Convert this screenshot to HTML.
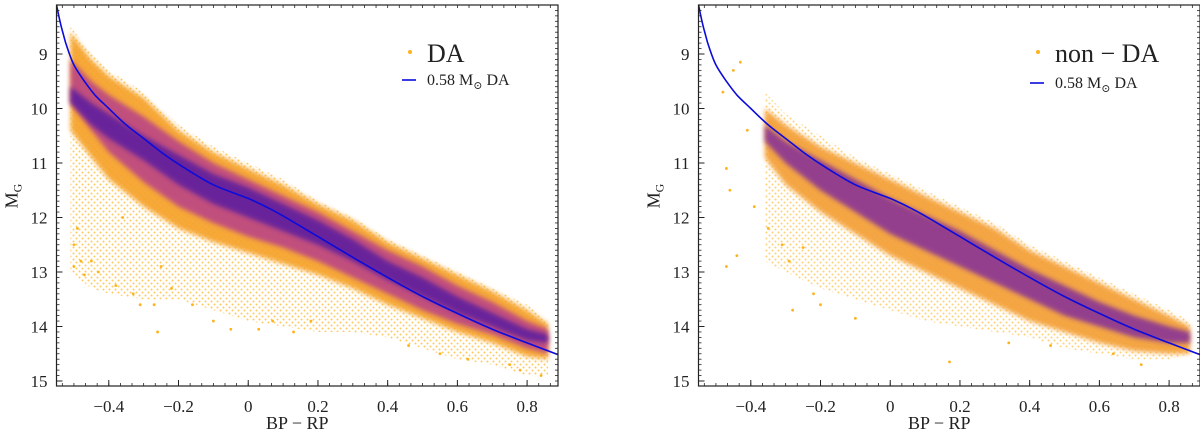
<!DOCTYPE html>
<html><head><meta charset="utf-8"><style>
html,body{margin:0;padding:0;background:#fff;}
svg{display:block;}
</style></head><body>
<svg id="chart" width="1200" height="435" viewBox="0 0 1200 435" xmlns="http://www.w3.org/2000/svg" font-family="'Liberation Serif', 'DejaVu Serif', serif">
<defs>
<filter id="soft" x="-5%" y="-5%" width="110%" height="110%"><feGaussianBlur stdDeviation="2.5"/></filter>
<pattern id="speck" width="6" height="6" patternUnits="userSpaceOnUse"><circle cx="1.5" cy="1.5" r="1" fill="#fdb31c"/><circle cx="4.5" cy="4.5" r="1" fill="#fdb31c"/></pattern>
</defs>
</svg>
<script>
// ---- data ----
const trackX = [-0.55,-0.54,-0.53,-0.52,-0.5,-0.47,-0.44,-0.4,-0.35,-0.3,-0.25,-0.2,-0.15,-0.1,-0.05,0,0.05,0.1,0.2,0.3,0.4,0.5,0.6,0.7,0.8,0.89];
const trackY = [8.1,8.4,8.65,8.87,9.2,9.5,9.75,10.0,10.3,10.55,10.8,11.02,11.22,11.4,11.53,11.65,11.8,11.97,12.35,12.73,13.1,13.45,13.76,14.05,14.3,14.52];

const daX      = [-0.51,-0.45,-0.4,-0.3,-0.2,-0.1,0,0.1,0.2,0.3,0.4,0.5,0.6,0.7,0.8,0.86];
const daSparseTop = [8.5,9.0,9.3,9.7,10.3,10.7,11.0,11.3,11.7,12.0,12.4,12.7,13.0,13.3,13.6,13.9];
const daSparseBot = [13.0,13.3,13.4,13.5,13.5,13.7,13.9,14.0,14.1,14.1,14.2,14.4,14.6,14.7,14.9,14.9];
const daOuterTop = [8.6,9.1,9.4,9.8,10.4,10.8,11.1,11.4,11.75,12.05,12.45,12.75,13.05,13.35,13.7,13.95];
const daOuterBot = [10.4,10.9,11.3,11.8,12.2,12.45,12.65,12.85,13.05,13.3,13.6,13.85,14.1,14.3,14.55,14.6];
const daMidTop   = [9.1,9.5,9.75,10.15,10.6,11.0,11.3,11.6,11.9,12.25,12.6,12.9,13.25,13.55,13.9,14.05];
const daMidBot   = [9.9,10.4,10.8,11.35,11.8,12.1,12.35,12.55,12.8,13.1,13.4,13.7,13.95,14.15,14.4,14.5];
const daCoreTop  = [9.6,9.9,10.1,10.5,10.85,11.2,11.45,11.75,12.05,12.4,12.8,13.1,13.45,13.75,14.05,14.15];
const daCoreBot  = [9.9,10.3,10.55,10.95,11.4,11.75,12.0,12.25,12.5,12.8,13.15,13.45,13.75,14.0,14.25,14.3];
const daOutX = [-0.5,-0.48,-0.47,-0.45,-0.43,-0.38,-0.31,-0.27,-0.26,-0.25,-0.16,-0.1,-0.05,0.03,0.07,0.13,0.18,-0.33,-0.22,0.46,0.55,0.63,0.78,0.84,0.75,-0.5,-0.49,-0.36];
const daOutY = [12.9,12.8,13.05,12.8,13.0,13.25,13.6,13.6,14.1,12.9,13.6,13.9,14.05,14.05,13.9,14.1,13.9,13.4,13.3,14.35,14.5,14.6,14.8,14.9,14.7,12.5,12.2,12.0];

const ndX = [-0.36,-0.3,-0.2,-0.1,0,0.1,0.2,0.3,0.4,0.5,0.6,0.7,0.8,0.86];
const ndSparseTop = [9.7,10.1,10.5,10.9,11.2,11.5,11.8,12.1,12.5,12.8,13.1,13.4,13.7,13.9];
const ndSparseBot = [12.8,13.0,13.3,13.5,13.7,13.9,14.0,14.1,14.2,14.4,14.5,14.6,14.6,14.5];
const ndOuterTop = [10.0,10.3,10.7,11.0,11.3,11.6,11.9,12.2,12.6,12.9,13.2,13.5,13.8,14.0];
const ndOuterBot = [10.9,11.4,11.9,12.3,12.7,13.0,13.3,13.6,13.9,14.1,14.3,14.45,14.5,14.5];
const ndCoreTop  = [10.3,10.6,10.95,11.3,11.65,11.95,12.25,12.6,12.95,13.25,13.55,13.8,14.0,14.1];
const ndCoreBot  = [10.6,11.0,11.5,11.9,12.3,12.6,12.9,13.2,13.5,13.8,14.0,14.2,14.3,14.3];
const ndOutX = [-0.43,-0.45,-0.48,-0.47,-0.46,-0.44,-0.39,-0.28,-0.22,-0.2,-0.1,-0.29,0.17,0.34,0.46,0.64,0.72,-0.41,-0.35,-0.47,-0.31,-0.25];
const ndOutY = [9.15,9.3,9.7,11.1,11.5,12.7,11.8,13.7,13.4,13.6,13.85,12.8,14.65,14.3,14.35,14.5,14.7,10.4,12.2,12.9,12.5,12.55];

const xTicks = [-0.4,-0.2,0,0.2,0.4,0.6,0.8];
const xTickLabels = ["\u22120.4","\u22120.2","0","0.2","0.4","0.6","0.8"];
const yTicks = [9,10,11,12,13,14,15];
const yTickLabels = ["9","10","11","12","13","14","15"];

// ---- drawing ----
const NS = "http://www.w3.org/2000/svg";
const FONT = "'Liberation Serif', 'DejaVu Serif', serif";
const svg = document.getElementById('chart');
function mk(tag, attrs, parent){const e=document.createElementNS(NS,tag);for(const k in attrs)e.setAttribute(k,attrs[k]);if(tag==='text')e.setAttribute('font-family',FONT);(parent||svg).appendChild(e);return e;}
function smooth(P){
  let d='M'+P[0][0].toFixed(1)+','+P[0][1].toFixed(1);
  for(let i=0;i<P.length-1;i++){
    const p0=P[Math.max(i-1,0)],p1=P[i],p2=P[i+1],p3=P[Math.min(i+2,P.length-1)];
    const c1=[p1[0]+(p2[0]-p0[0])/6,p1[1]+(p2[1]-p0[1])/6];
    const c2=[p2[0]-(p3[0]-p1[0])/6,p2[1]-(p3[1]-p1[1])/6];
    d+=' C'+c1.map(v=>v.toFixed(1))+' '+c2.map(v=>v.toFixed(1))+' '+p2.map(v=>v.toFixed(1));
  }
  return d;
}

function panel(ox, name, cfg){
  const L=ox, R=ox+501.5, T=5, B=386;
  const sx = v => L + (v+0.55)*348.6;
  const sy = v => 54 + (v-9)*54.5;
  const g = mk('g',{});
  
  
  const clipId='clip'+ox;
  const cp=mk('clipPath',{id:clipId},g); mk('rect',{x:L,y:T,width:R-L,height:B-T},cp);
  const plot=mk('g',{'clip-path':'url(#'+clipId+')'},g);
  function band(xs,top,bot,fill,op,nm,blur){
    let pts=xs.map((x,i)=>sx(x)+','+sy(top[i]));
    for(let i=xs.length-1;i>=0;i--)pts.push(sx(xs[i])+','+sy(bot[i]));
    const p=mk('polygon',{points:pts.join(' '),fill:fill,opacity:op},plot);
    if(blur)p.setAttribute('filter','url(#soft)');
    
    
  }
  cfg.bands.forEach(b=>band(cfg.x,b[0],b[1],b[2],b[3],b[4],b[5]));
  cfg.outX.forEach((x,i)=>{
    const c=mk('circle',{cx:sx(x),cy:sy(cfg.outY[i]),r:1.4,fill:'#fdb31c'},plot);
    
    
  });
  const tr=mk('path',{d:smooth(trackX.map((x,i)=>[sx(x),sy(trackY[i])])),fill:'none',stroke:'#0b0bdc','stroke-width':1.6},plot);
  
  
  const fr=mk('rect',{x:L,y:T,width:R-L,height:B-T,fill:'none',stroke:'#222','stroke-width':1.2},g);
  
  
  for(let k=-16;k<=27;k++){const v=k/30;const x=sx(v);if(x<L||x>R)continue;
    mk('line',{x1:x,x2:x,y1:B,y2:B-3,stroke:'#222','stroke-width':0.8},g);
    mk('line',{x1:x,x2:x,y1:T,y2:T+3,stroke:'#222','stroke-width':0.8},g);}
  for(let k=81;k<=151;k++){const y=sy(k/10);if(y<T||y>B)continue;
    mk('line',{x1:L,x2:L+3,y1:y,y2:y,stroke:'#222','stroke-width':0.8},g);
    mk('line',{x1:R,x2:R-3,y1:y,y2:y,stroke:'#222','stroke-width':0.8},g);}
  xTicks.forEach((v,i)=>{
    mk('line',{x1:sx(v),x2:sx(v),y1:B,y2:B-6,stroke:'#222','stroke-width':1},g);
    const t=mk('text',{x:sx(v),y:B+26,'text-anchor':'middle','font-size':17,fill:'#222'},g);
    t.textContent=xTickLabels[i];
    
    
  });
  yTicks.forEach((v,i)=>{
    mk('line',{x1:L,x2:L+6,y1:sy(v),y2:sy(v),stroke:'#222','stroke-width':1},g);
    const t=mk('text',{x:L-9,y:sy(v)+6,'text-anchor':'end','font-size':17,fill:'#222'},g);
    t.textContent=yTickLabels[i];
    
    
  });
  const xt=mk('text',{x:(L+R)/2-10,y:429,'text-anchor':'middle','font-size':18,fill:'#222'},g);
  xt.textContent='BP \u2212 RP';
  
  
  const yt=mk('text',{transform:'translate('+(L-39)+',196) rotate(-90)','text-anchor':'middle','font-size':18,fill:'#222'},g);
  yt.innerHTML='M<tspan font-size="12" dy="4">G</tspan>';
  
  
  const lg=mk('g',{},g);
  
  
  mk('circle',{cx:cfg.lx,cy:52,r:2,fill:'#fdb31c'},lg);
  const l1=mk('text',{x:cfg.lx+17,y:62,'font-size':26,fill:'#222'},lg);
  l1.textContent=cfg.label;
  
  
  mk('line',{x1:cfg.lx-8,x2:cfg.lx+6,y1:cfg.ly-5,y2:cfg.ly-5,stroke:'#0b0bdc','stroke-width':1.6},lg);
  const l2=mk('text',{x:cfg.lx+17,y:cfg.ly,'font-size':16,fill:'#222'},lg);
  l2.innerHTML='0.58 M<tspan font-size="11" dy="4">\u2299</tspan><tspan dy="-4"> DA</tspan>';
  
  
}

panel(56.5,'panel-da',{x:daX,outX:daOutX,outY:daOutY,lx:410,ly:85,label:'DA',bands:[
  [daSparseTop,daSparseBot,'url(#speck)',0.7,'sparse-region',false],
  [daOuterTop,daOuterBot,'#f6a42e',0.95,'outer-density',true],
  [daMidTop,daMidBot,'#b8408a',0.85,'mid-density',true],
  [daCoreTop,daCoreBot,'#5a1aa0',0.85,'core-density',true]]});
panel(698.5,'panel-non-da',{x:ndX,outX:ndOutX,outY:ndOutY,lx:1038,ly:88,label:'non \u2212 DA',bands:[
  [ndSparseTop,ndSparseBot,'url(#speck)',0.6,'sparse-region',false],
  [ndOuterTop,ndOuterBot,'#f4a23a',0.95,'outer-density',true],
  [ndCoreTop,ndCoreBot,'#7c28a0',0.8,'core-density',true]]});
</script>
</body></html>
